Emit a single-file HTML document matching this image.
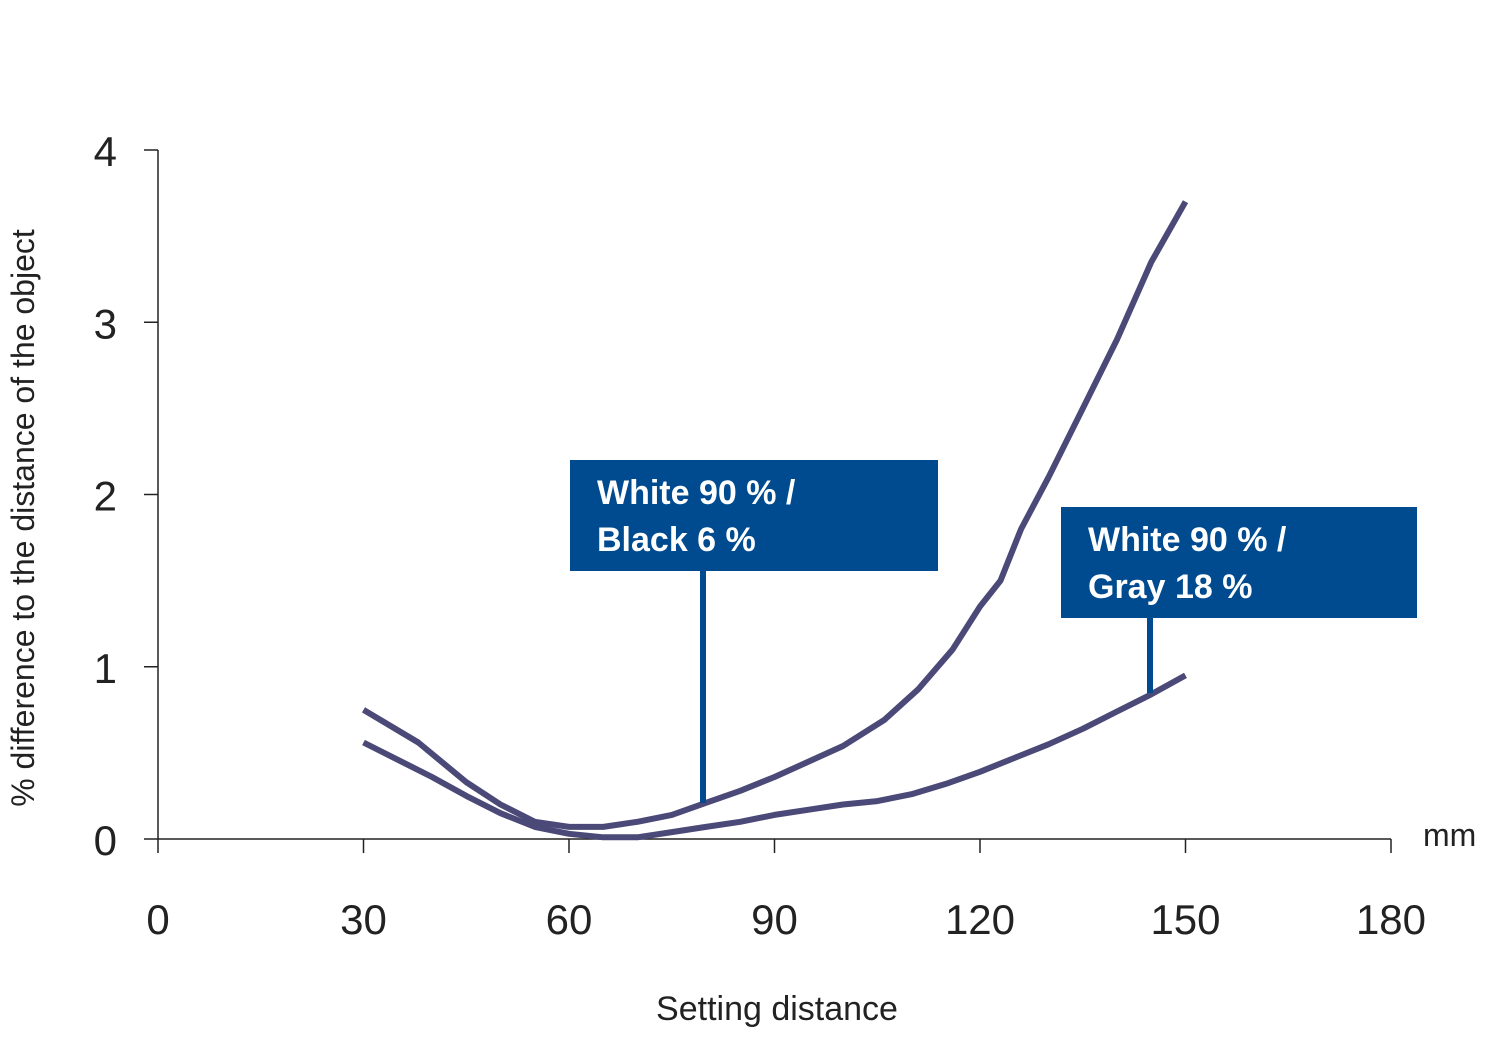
<!DOCTYPE html>
<html><head><meta charset="utf-8"><style>
body{margin:0;background:#fff}
svg{display:block;font-family:"Liberation Sans",sans-serif}
</style></head><body>
<svg id="chart" width="1500" height="1059" viewBox="0 0 1500 1059"></svg>
<script>
const xTicks=[0,30,60,90,120,150,180];
const yTicks=[0,1,2,3,4];
const xBlack=[30,38,45,50,55,60,65,70,75,80,85,90,95,100,106,111,116,120,123,126,130,135,140,145,150];
const yBlack=[0.75,0.56,0.33,0.2,0.1,0.07,0.07,0.1,0.14,0.21,0.28,0.36,0.45,0.54,0.69,0.87,1.1,1.35,1.5,1.8,2.1,2.5,2.9,3.35,3.7];
const xGray=[30,40,45,50,55,60,65,70,75,80,85,90,95,100,105,110,115,120,125,130,135,140,145,150];
const yGray=[0.56,0.36,0.25,0.15,0.07,0.03,0.01,0.01,0.04,0.07,0.1,0.14,0.17,0.2,0.22,0.26,0.32,0.39,0.47,0.55,0.64,0.74,0.84,0.95];
const NS='http://www.w3.org/2000/svg';
const svg=document.getElementById('chart');
const X=v=>158+v*(1391-158)/180;
const Y=v=>839-v*(839-150)/4;
function mk(tag,attrs,txt){const e=document.createElementNS(NS,tag);for(const k in attrs)e.setAttribute(k,attrs[k]);if(txt!=null)e.textContent=txt;svg.appendChild(e);return e;}
let e;
e=mk('line',{x1:158,y1:150,x2:158,y2:839,stroke:'#222','stroke-width':1.5});


e=mk('line',{x1:158,y1:839,x2:1391,y2:839,stroke:'#222','stroke-width':1.5});


xTicks.forEach(t=>{
 e=mk('line',{x1:X(t),y1:839,x2:X(t),y2:853,stroke:'#222','stroke-width':1.5});
 
 
 e=mk('text',{x:X(t),y:934,'text-anchor':'middle','font-size':42,fill:'#222'},t);
 
 
});
yTicks.forEach(t=>{
 e=mk('line',{x1:144,y1:Y(t),x2:158,y2:Y(t),stroke:'#222','stroke-width':1.5});
 
 
 e=mk('text',{x:117,y:Y(t)+16,'text-anchor':'end','font-size':42,fill:'#222'},t);
 
 
});
e=mk('text',{x:1423,y:846,'font-size':32,fill:'#222'},'mm');


e=mk('text',{x:777,y:1020,'text-anchor':'middle','font-size':34,fill:'#222'},'Setting distance');


e=mk('text',{x:0,y:0,'text-anchor':'middle','font-size':32,fill:'#222',transform:'translate(34,518) rotate(-90)'},'% difference to the distance of the object');


function series(xs,ys,name){
 const d=xs.map((x,i)=>(i?'L':'M')+X(x).toFixed(1)+','+Y(ys[i]).toFixed(1)).join(' ');
 const p=mk('path',{d:d,fill:'none',stroke:'#4b4977','stroke-width':6,'stroke-linejoin':'round'});
 
 
}
series(xBlack,yBlack,'series-white-black');
series(xGray,yGray,'series-white-gray');
function callout(bx,by,bw,bh,lx,ly,l1,l2,name){
 const g=mk('g',{});
 
 
 const ln=document.createElementNS(NS,'line');
 [['x1',lx],['y1',by+bh],['x2',lx],['y2',ly],['stroke','#004a8f'],['stroke-width',6]].forEach(a=>ln.setAttribute(a[0],a[1]));
 g.appendChild(ln);
 const r=document.createElementNS(NS,'rect');
 [['x',bx],['y',by],['width',bw],['height',bh],['fill','#004a8f']].forEach(a=>r.setAttribute(a[0],a[1]));
 g.appendChild(r);
 [l1,l2].forEach((t,i)=>{const tx=document.createElementNS(NS,'text');
  [['x',bx+27],['y',by+44+i*47],['font-size',34],['font-weight','bold'],['fill','#fff']].forEach(a=>tx.setAttribute(a[0],a[1]));
  tx.textContent=t;g.appendChild(tx);});
}
callout(570,460,368,111,703,803,'White 90 % /','Black 6 %','callout-black');
callout(1061,507,356,111,1150,693,'White 90 % /','Gray 18 %','callout-gray');
</script>
</body></html>
